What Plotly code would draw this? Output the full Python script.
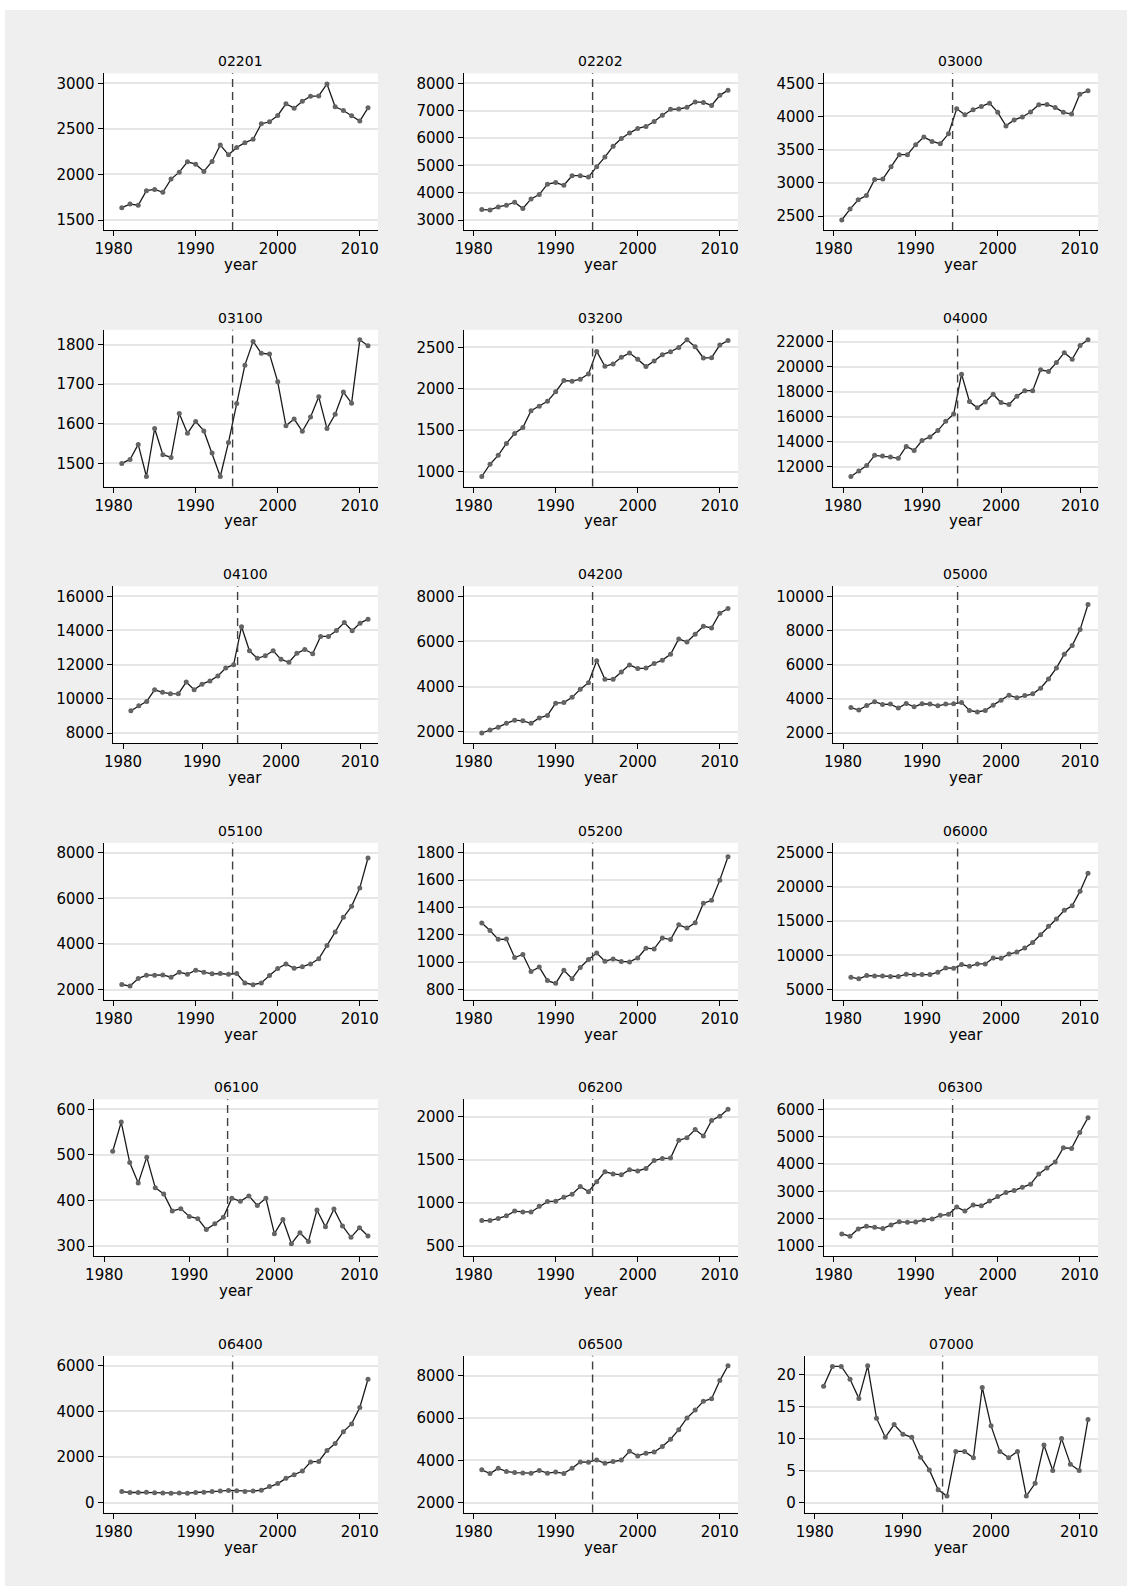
import plotly.graph_objects as go

# ---- data -----------------------------------------------------------------
years = list(range(1981, 2012))
xticks = [1980, 1990, 2000, 2010]
break_year = 1994.5

s02201 = [1635, 1675, 1662, 1822, 1836, 1804, 1949, 2025, 2138, 2113, 2033, 2142, 2324, 2215, 2295, 2349,
          2385, 2556, 2578, 2647, 2775, 2727, 2804, 2858, 2862, 2993, 2742, 2702, 2644, 2585, 2731]
s02202 = [3380, 3370, 3480, 3540, 3650, 3420, 3770, 3930, 4310, 4370, 4270, 4620, 4620, 4570, 4950, 5300,
          5700, 5980, 6180, 6350, 6420, 6600, 6830, 7050, 7060, 7120, 7320, 7300, 7190, 7560, 7750]
s03000 = [2440, 2604, 2744, 2808, 3052, 3057, 3241, 3425, 3425, 3575, 3689, 3624, 3590, 3739, 4117, 4027,
          4102, 4152, 4201, 4062, 3858, 3948, 3993, 4067, 4177, 4182, 4137, 4062, 4037, 4336, 4386]
s03100 = [1500, 1510, 1548, 1467, 1588, 1522, 1515, 1626, 1576, 1606, 1582, 1526, 1467, 1553, 1651, 1748,
          1808, 1778, 1776, 1706, 1595, 1612, 1581, 1617, 1668, 1588, 1624, 1680, 1652, 1812, 1797]
s03200 = [940, 1088, 1196, 1340, 1460, 1532, 1736, 1788, 1848, 1964, 2100, 2092, 2116, 2180, 2452, 2272,
          2300, 2380, 2432, 2356, 2268, 2336, 2412, 2448, 2500, 2592, 2508, 2372, 2376, 2528, 2584]
s04000 = [11205, 11655, 12077, 12898, 12845, 12766, 12660, 13612, 13295, 14088, 14380, 14882, 15623, 16205,
          19407, 17211, 16708, 17184, 17793, 17131, 16973, 17634, 18084, 18084, 19751, 19619, 20333, 21127,
          20598, 21709, 22159]
s04100 = [9300, 9600, 9850, 10530, 10380, 10300, 10290, 10980, 10530, 10860, 11050, 11340, 11800, 12000,
          14220, 12810, 12370, 12520, 12810, 12310, 12140, 12660, 12890, 12640, 13650, 13650, 14000, 14460,
          13980, 14430, 14660]
s04200 = [1940, 2070, 2200, 2370, 2510, 2480, 2370, 2610, 2720, 3260, 3290, 3520, 3880, 4170, 5140, 4320,
          4320, 4640, 4960, 4800, 4820, 5020, 5170, 5430, 6110, 5970, 6320, 6670, 6600, 7250, 7460]
s05000 = [3490, 3340, 3610, 3830, 3670, 3690, 3460, 3730, 3530, 3710, 3690, 3590, 3690, 3710, 3790, 3320,
          3230, 3320, 3630, 3920, 4210, 4060, 4190, 4290, 4620, 5160, 5800, 6610, 7120, 8050, 9520]
s05100 = [2220, 2150, 2480, 2630, 2630, 2640, 2540, 2760, 2670, 2850, 2760, 2690, 2700, 2670, 2700, 2290,
          2210, 2290, 2610, 2920, 3120, 2930, 3000, 3120, 3350, 3930, 4520, 5170, 5650, 6460, 7770]
s05200 = [1286, 1232, 1167, 1169, 1034, 1056, 932, 964, 865, 845, 940, 879, 961, 1019, 1067, 1007,
          1024, 1005, 1002, 1031, 1102, 1097, 1177, 1165, 1273, 1249, 1288, 1431, 1452, 1600, 1771]
s06000 = [6800, 6560, 7040, 6990, 6990, 6900, 6900, 7240, 7140, 7190, 7190, 7530, 8160, 8110, 8640, 8400,
          8740, 8740, 9610, 9560, 10190, 10480, 11070, 11890, 13000, 14260, 15320, 16580, 17260, 19390, 22000]
s06100 = [508, 572, 483, 438, 495, 428, 414, 377, 382, 365, 360, 336, 349, 363, 405, 398,
          410, 389, 405, 327, 358, 305, 329, 310, 379, 342, 381, 344, 319, 340, 322]
s06200 = [795, 795, 820, 850, 905, 895, 895, 960, 1015, 1020, 1065, 1100, 1190, 1130, 1245, 1360,
          1335, 1325, 1385, 1370, 1400, 1490, 1515, 1520, 1725, 1755, 1850, 1775, 1955, 2005, 2085]
s06300 = [1443, 1358, 1625, 1722, 1685, 1637, 1770, 1891, 1867, 1879, 1952, 1988, 2121, 2158, 2424, 2279,
          2497, 2473, 2642, 2812, 2957, 3030, 3150, 3260, 3635, 3855, 4073, 4594, 4570, 5150, 5695]
s06400 = [480, 440, 440, 450, 430, 420, 410, 420, 410, 440, 450, 480, 500, 530, 520, 480,
          500, 540, 700, 830, 1060, 1220, 1380, 1780, 1800, 2280, 2590, 3110, 3450, 4170, 5410]
s06500 = [3550, 3370, 3620, 3470, 3420, 3400, 3390, 3520, 3390, 3440, 3380, 3620, 3920, 3910, 4020, 3860,
          3940, 4010, 4430, 4210, 4340, 4390, 4650, 5000, 5450, 6010, 6380, 6800, 6920, 7780, 8480]
s07000 = [18.2, 21.3, 21.3, 19.3, 16.3, 21.4, 13.2, 10.2, 12.2, 10.7, 10.2, 7.1, 5.1, 2, 1, 8,
          8, 7, 18, 12, 8, 7, 8, 1, 3, 9, 5, 10, 6, 5, 13]

yt_02201 = [1500, 2000, 2500, 3000]
yt_02202 = [3000, 4000, 5000, 6000, 7000, 8000]
yt_03000 = [2500, 3000, 3500, 4000, 4500]
yt_03100 = [1500, 1600, 1700, 1800]
yt_03200 = [1000, 1500, 2000, 2500]
yt_04000 = [12000, 14000, 16000, 18000, 20000, 22000]
yt_04100 = [8000, 10000, 12000, 14000, 16000]
yt_04200 = [2000, 4000, 6000, 8000]
yt_05000 = [2000, 4000, 6000, 8000, 10000]
yt_05100 = [2000, 4000, 6000, 8000]
yt_05200 = [800, 1000, 1200, 1400, 1600, 1800]
yt_06000 = [5000, 10000, 15000, 20000, 25000]
yt_06100 = [300, 400, 500, 600]
yt_06200 = [500, 1000, 1500, 2000]
yt_06300 = [1000, 2000, 3000, 4000, 5000, 6000]
yt_06400 = [0, 2000, 4000, 6000]
yt_06500 = [2000, 4000, 6000, 8000]
yt_07000 = [0, 5, 10, 15, 20]

panels = [
    ("02201", s02201, yt_02201), ("02202", s02202, yt_02202), ("03000", s03000, yt_03000),
    ("03100", s03100, yt_03100), ("03200", s03200, yt_03200), ("04000", s04000, yt_04000),
    ("04100", s04100, yt_04100), ("04200", s04200, yt_04200), ("05000", s05000, yt_05000),
    ("05100", s05100, yt_05100), ("05200", s05200, yt_05200), ("06000", s06000, yt_06000),
    ("06100", s06100, yt_06100), ("06200", s06200, yt_06200), ("06300", s06300, yt_06300),
    ("06400", s06400, yt_06400), ("06500", s06500, yt_06500), ("07000", s07000, yt_07000),
]

# ---- geometry (pixels) ------------------------------------------------------
FIG_W, FIG_H = 1132, 1592
COL_RIGHT = [378, 738, 1098]
ROW_TOP0, ROW_STEP, PLOT_H = 73.3, 256.5, 156.7
PAD = 10          # inner plot-region margin, px
DIGIT_W = 9.4     # width taken by one tick-label digit
FONT = "DejaVu Sans"

BG = "#efefef"
GRID = "#e6e6e6"
LINE = "#1a1a1a"
MARK = "#646464"

fig = go.Figure()
layout = dict(
    width=FIG_W, height=FIG_H,
    margin=dict(l=0, r=0, t=0, b=0, autoexpand=False),
    paper_bgcolor=BG, plot_bgcolor="white",
    font=dict(family=FONT, size=15, color="black"),
    showlegend=False,
)
shapes, annotations = [], []


def px_x(v):
    return v / FIG_W


def px_y(v):
    return 1 - v / FIG_H


for i, (name, vals, yt) in enumerate(panels):
    r, c = divmod(i, 3)
    ndig = max(len(str(t)) for t in yt)
    w = 312 - DIGIT_W * ndig
    x1 = COL_RIGHT[c]
    x0 = x1 - w
    y0 = ROW_TOP0 + r * ROW_STEP
    y1 = y0 + PLOT_H
    k = "" if i == 0 else str(i + 1)

    fig.add_trace(go.Scatter(
        x=years, y=vals, mode="lines+markers",
        xaxis="x" + k, yaxis="y" + k,
        line=dict(color=LINE, width=1.3),
        marker=dict(size=5, color=MARK),
        hoverinfo="skip",
    ))

    lo = min(min(vals), yt[0])
    hi = max(max(vals), yt[-1])
    ypad = (hi - lo) * PAD / (PLOT_H - 2 * PAD)
    xlo, xhi = xticks[0], years[-1]
    xpad = (xhi - xlo) * PAD / (w - 2 * PAD)

    layout["xaxis" + k] = dict(
        domain=[px_x(x0), px_x(x1)], anchor="y" + k,
        range=[xlo - xpad, xhi + xpad],
        tickvals=xticks, ticktext=[str(t) for t in xticks],
        ticks="outside", ticklen=5, tickwidth=1, tickcolor="black",
        showline=True, linecolor="black", linewidth=1,
        showgrid=False, zeroline=False, fixedrange=True,
        tickfont=dict(family=FONT, size=15, color="black"),
    )
    layout["yaxis" + k] = dict(
        domain=[px_y(y1), px_y(y0)], anchor="x" + k,
        range=[lo - ypad, hi + ypad],
        tickvals=yt, ticktext=[str(t) for t in yt],
        ticks="outside", ticklen=5, tickwidth=1, tickcolor="black",
        showline=True, linecolor="black", linewidth=1,
        showgrid=True, gridcolor=GRID, gridwidth=1.6,
        zeroline=False, fixedrange=True,
        tickfont=dict(family=FONT, size=15, color="black"),
    )

    # structural break marker
    shapes.append(dict(
        type="line", xref="x" + k, yref="y" + k + " domain",
        x0=break_year, x1=break_year, y0=0, y1=1,
        line=dict(color="#404040", width=1.4, dash="8px,5px"),
    ))

    cx = px_x((x0 + x1) / 2)
    annotations.append(dict(
        text=name, x=cx, y=px_y(y0 - 12), xref="paper", yref="paper",
        xanchor="center", yanchor="middle", showarrow=False,
        font=dict(family=FONT, size=14, color="black"),
    ))
    annotations.append(dict(
        text="year", x=cx, y=px_y(y1 + 35), xref="paper", yref="paper",
        xanchor="center", yanchor="middle", showarrow=False,
        font=dict(family=FONT, size=15, color="black"),
    ))

# white page border around the graph area
for bx0, by0, bx1, by1 in [(0, 0, FIG_W, 10), (0, 0, 5, FIG_H),
                           (FIG_W - 5, 0, FIG_W, FIG_H), (0, FIG_H - 6, FIG_W, FIG_H)]:
    shapes.append(dict(
        type="rect", xref="paper", yref="paper",
        x0=px_x(bx0), x1=px_x(bx1), y0=px_y(by1), y1=px_y(by0),
        fillcolor="white", line=dict(width=0), layer="above",
    ))

layout["shapes"] = shapes
layout["annotations"] = annotations
fig.update_layout(**layout)
fig.write_html("out.html")
